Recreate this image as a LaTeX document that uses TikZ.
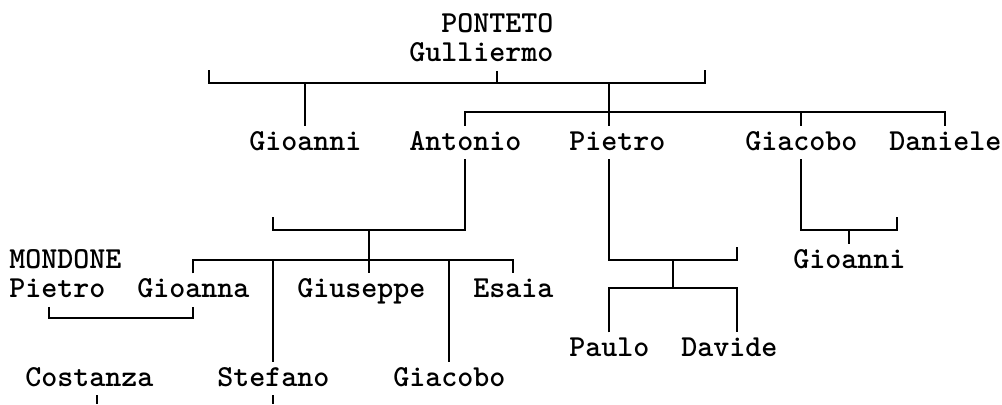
\documentclass[tikz,border=0pt]{standalone}
\usepackage{tikz}
\usetikzlibrary{positioning, calc}

\begin{document}
\begin{tikzpicture}[
  x=4mm, y=-7.375mm,
  person/.style={font=\ttfamily\bfseries\fontsize{21.7}{26}\selectfont, inner sep=0pt,
                 anchor=base west, text height=5.97mm, text depth=2.3mm},
  tree/.style={black, line width=1.3pt},
]

% one unit = one character column (x) / one text row (y)
\useasboundingbox (-0.5625,-1.085) rectangle (62.0625,12.61);

% =====================================================================
% Names
% =====================================================================
\node[person] (ponteto)   at (27,0) {PONTETO};
\node[person] (gulliermo) at (25,1) {Gulliermo};

\foreach \name/\c/\txt in {gioanniA/15/Gioanni, antonio/25/Antonio,
                           pietroA/35/Pietro, giacoboA/46/Giacobo,
                           daniele/55/Daniele}{
  \node[person] (\name) at (\c,4) {\txt};
}

\node[person] (mondone)  at (0,8)  {MONDONE};
\node[person] (gioanniB) at (49,8) {Gioanni};

\foreach \name/\c/\txt in {pietroB/0/Pietro, gioanna/8/Gioanna,
                           giuseppe/18/Giuseppe, esaia/29/Esaia}{
  \node[person] (\name) at (\c,9) {\txt};
}

\node[person] (paulo)  at (35,11) {Paulo};
\node[person] (davide) at (42,11) {Davide};

\foreach \name/\c/\txt in {costanza/1/Costanza, stefano/13/Stefano,
                           giacoboB/24/Giacobo}{
  \node[person] (\name) at (\c,12) {\txt};
}

% =====================================================================
% Bar heights and free ends
% =====================================================================
\coordinate (barA) at (0,1.73);
\coordinate (barB) at (0,2.71);
\coordinate (barC) at (0,6.71);
\coordinate (barD) at (0,7.73);
\coordinate (barE) at (0,9.69);
\coordinate (barF) at (0,7.73);
\coordinate (barG) at (0,8.68);
\coordinate (barH) at (0,6.71);
\coordinate (bottom) at (0,12.61);

\coordinate (barAL) at (12.5,1.29);
\coordinate (barAR) at (43.5,1.29);
\coordinate (barCL) at (16.5,6.27);
\coordinate (barFR) at (45.5,7.29);
\coordinate (barHR) at (55.5,6.27);
\coordinate (knotP) at (41.5,7.73);

% attachment points off the name centre
\coordinate (gulliermoTick) at ([xshift=4mm]gulliermo.south);
\coordinate (pietroAtop)    at ([xshift=-2mm]pietroA.north);
\coordinate (pietroAbot)    at ([xshift=-2mm]pietroA.south);
\coordinate (giuseppeTop)   at ([xshift=2mm]giuseppe.north);
\coordinate (pietroBbot)    at ([xshift=-2mm]pietroB.south);
\coordinate (davideTop)     at ([xshift=2mm]davide.north);
\coordinate (costanzaBot)   at ([xshift=2mm]costanza.south);

% =====================================================================
% Gulliermo's children
% =====================================================================
\draw[tree] (barAL) |- (barAR |- barA) -- (barAR);
\draw[tree] (gulliermoTick) -- (gulliermoTick |- barA);
\draw[tree] (gioanniA.north) -- (gioanniA.north |- barA);
\draw[tree] (pietroAtop |- barA) -- (pietroAtop);

\draw[tree] (antonio.north) |- (daniele.north |- barB) -- (daniele.north);
\draw[tree] (giacoboA.north) -- (giacoboA.north |- barB);

% =====================================================================
% Antonio's children
% =====================================================================
\draw[tree] (antonio.south) |- (barCL |- barC) -- (barCL);
\draw[tree] (giuseppeTop |- barC) -- (giuseppeTop);

\draw[tree] (gioanna.north) |- (esaia.north |- barD) -- (esaia.north);
\draw[tree] (stefano.north) -- (stefano.north |- barD);
\draw[tree] (giacoboB.north) -- (giacoboB.north |- barD);

% Pietro -- Gioanna
\draw[tree] (pietroBbot) |- (gioanna.south |- barE) -- (gioanna.south);

% =====================================================================
% Pietro's children
% =====================================================================
\draw[tree] (pietroAbot) |- (barFR |- barF) -- (barFR);
\draw[tree] (knotP) -- (knotP |- barG);
\draw[tree] (paulo.north) |- (davideTop |- barG) -- (davideTop);

% =====================================================================
% Giacobo's child
% =====================================================================
\draw[tree] (giacoboA.south) |- (barHR |- barH) -- (barHR);
\draw[tree] (gioanniB.north) -- (gioanniB.north |- barH);

% stubs running off the bottom edge
\draw[tree] (costanzaBot) -- (costanzaBot |- bottom);
\draw[tree] (stefano.south) -- (stefano.south |- bottom);

\end{tikzpicture}
\end{document}
